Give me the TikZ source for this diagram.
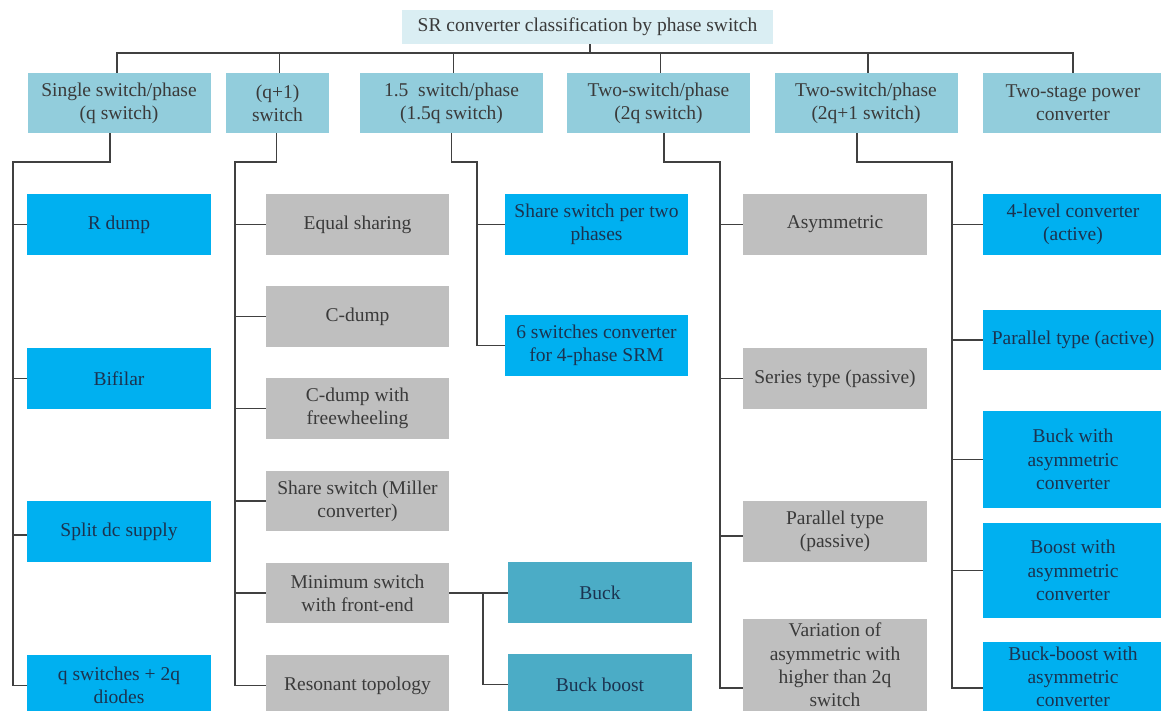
\documentclass[tikz,border=0pt]{standalone}
\usepackage{fontspec}
\setmainfont{Liberation Serif}
\definecolor{topc}{HTML}{DAEEF3}
\definecolor{l1c}{HTML}{92CDDC}
\definecolor{bluec}{HTML}{00B0F0}
\definecolor{grayc}{HTML}{BFBFBF}
\definecolor{tealc}{HTML}{4BACC6}
\definecolor{txtd}{HTML}{3A3A3A}
\definecolor{navy}{HTML}{1B3350}
\definecolor{linec}{HTML}{404040}
\tikzset{
  box/.style={inner sep=0pt, align=center, font={\fontsize{19.5}{23.2}\selectfont}},
  topbox/.style={box, fill=topc, text=txtd, minimum width=371pt, minimum height=34pt},
  lone/.style={box, fill=l1c, text=txtd, minimum width=183pt, minimum height=60pt},
  bluebox/.style={box, fill=bluec, text=navy, minimum width=184pt, minimum height=61pt},
  graybox/.style={box, fill=grayc, text=txtd, minimum width=183pt, minimum height=61pt},
  tealbox/.style={box, fill=tealc, text=navy, minimum width=184pt, minimum height=61pt},
  conn/.style={draw=linec, line width=1.2pt}
}
\begin{document}
\begin{tikzpicture}[x=1pt,y=-1pt]
\useasboundingbox (0,0) rectangle (1161,711);
\clip (0,0) rectangle (1161,711);
% top
\node[topbox] (top) at (587.5,27) {SR converter classification by phase switch};
% level 1
\node[lone] (La) at (119,103) {Single switch/phase\\(q switch)};
\node[lone, minimum width=103pt] (Lb) at (277.5,103) {(q+1)\\switch};
\node[lone] (Lc) at (451.5,103) {1.5\ \ switch/phase\\(1.5q switch)};
\node[lone] (Ld) at (658.5,103) {Two-switch/phase\\(2q switch)};
\node[lone] (Le) at (866,103) {Two-switch/phase\\(2q+1 switch)};
\node[lone, minimum width=180pt] (Lf) at (1073,103) {Two-stage power\\converter};
% column A
\node[bluebox] (Ra) at (119,224.5) {R dump};
\node[bluebox] (Rb) at (119,378.5) {Bifilar};
\node[bluebox] (Rc) at (119,531.5) {Split dc supply};
\node[bluebox] (Rd) at (119,685.5) {q switches + 2q\\diodes};
% column B
\node[graybox] (Ba) at (357.5,224.5) {Equal sharing};
\node[graybox] (Bb) at (357.5,316.5) {C-dump};
\node[graybox] (Bc) at (357.5,408.5) {C-dump with\\freewheeling};
\node[graybox, minimum height=60pt] (Bd) at (357.5,501) {Share switch (Miller\\converter)};
\node[graybox, minimum height=60pt] (Be) at (357.5,593) {Minimum switch\\with front-end};
\node[graybox] (Bf) at (357.5,685.5) {Resonant topology};
% column C
\node[bluebox, minimum width=183pt] (Ca) at (596.5,224.5) {Share switch per two\\phases};
\node[bluebox, minimum width=183pt] (Cb) at (596.5,345.5) {6 switches converter\\for 4-phase SRM};
\node[tealbox] (Ta) at (600,592.5) {Buck};
\node[tealbox] (Tb) at (600,684.5) {Buck boost};
% column D
\node[graybox, minimum width=184pt] (Da) at (835,224.5) {Asymmetric};
\node[graybox, minimum width=184pt] (Db) at (835,378.5) {Series type (passive)};
\node[graybox, minimum width=184pt] (Dc) at (835,531.5) {Parallel type\\(passive)};
\node[graybox, minimum width=184pt, minimum height=93pt] (Dd) at (835,665) {Variation of\\asymmetric with\\higher than 2q\\switch};
% column E
\node[bluebox, minimum width=180pt] (Ea) at (1073,224.5) {4-level converter\\(active)};
\node[bluebox, minimum width=180pt, minimum height=60pt] (Eb) at (1073,340) {Parallel type (active)};
\node[bluebox, minimum width=180pt, minimum height=97pt] (Ec) at (1073,459.5) {Buck with\\asymmetric\\converter};
\node[bluebox, minimum width=180pt, minimum height=95pt] (Ed) at (1073,570.5) {Boost with\\asymmetric\\converter};
\node[bluebox, minimum width=180pt, minimum height=70pt] (Ee) at (1073,677) {Buck-boost with\\asymmetric\\converter};
% top connectors
\coordinate (bus) at (590,53);
\draw[conn] ([xshift=2.5pt]top.south) -- (bus);
\draw[conn] ([xshift=-2pt]La.north) |- (bus) -| (Lf.north);
\foreach \n in {Lb,Lc,Ld,Le} \draw[conn] ([xshift=2pt]\n.north) -- ([xshift=2pt]\n.north |- bus);
% column A
\coordinate (ja) at (13,162);
\draw[conn] ([xshift=-9pt]La.south) |- (ja) |- (Rd.west);
\foreach \n in {Ra,Rb} \draw[conn] (ja |- \n.west) -- (\n.west);
\draw[conn] (ja |- 0,535) -- ([yshift=-3.5pt]Rc.west);
% column B
\coordinate (jb) at (235,162);
\draw[conn] ([xshift=-1pt]Lb.south) |- (jb) |- (Bf.west);
\foreach \n in {Ba,Bb,Bc,Bd,Be} \draw[conn] (jb |- \n.west) -- (\n.west);
% column C
\coordinate (jc) at (477,162);
\draw[conn] (Lc.south) |- (jc) |- (Cb.west);
\draw[conn] (jc |- Ca.west) -- (Ca.west);
\coordinate (jt) at (483,593);
\draw[conn] (Be.east) -- (Be.east -| Ta.west);
\draw[conn] (jt) |- (Tb.west);
% column D
\coordinate (jd) at (720,162);
\draw[conn] ([xshift=5.5pt]Ld.south) |- (jd) |- ([yshift=-23pt]Dd.west);
\foreach \n in {Da,Db} \draw[conn] (jd |- \n.west) -- (\n.west);
\draw[conn] (jd |- 0,536) -- ([yshift=-4.5pt]Dc.west);
% column E
\coordinate (je) at (952,162);
\draw[conn] ([xshift=-9pt]Le.south) |- (je) |- ([yshift=-11pt]Ee.west);
\foreach \n in {Ea,Eb,Ec,Ed} \draw[conn] (je |- \n.west) -- (\n.west);
\end{tikzpicture}
\end{document}
